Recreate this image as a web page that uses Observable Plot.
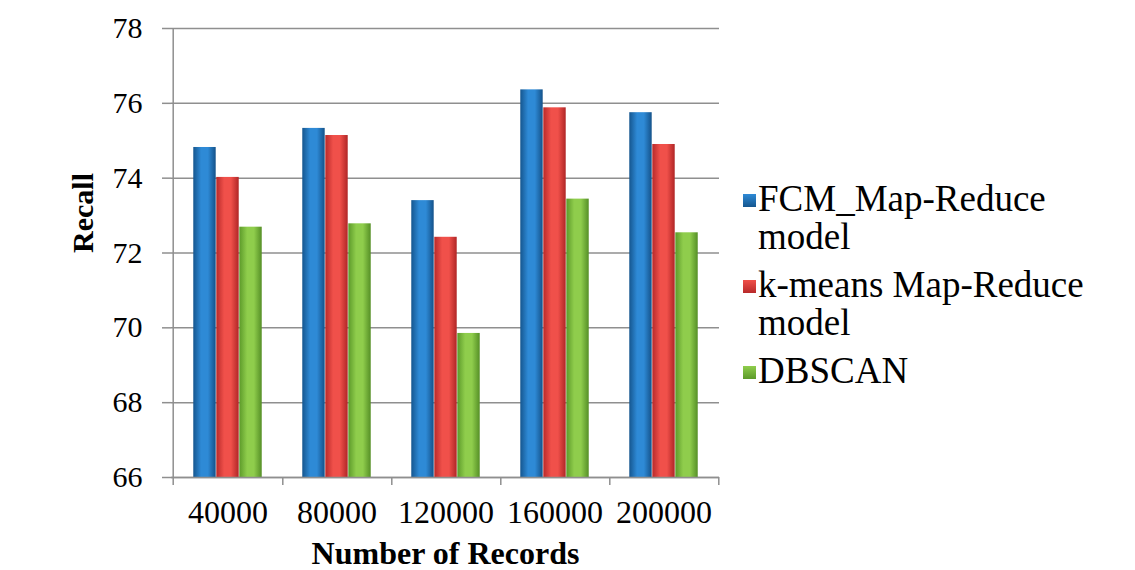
<!DOCTYPE html>
<html>
<head>
<meta charset="utf-8">
<script src="https://cdn.jsdelivr.net/npm/d3@7"></script>
<script src="https://cdn.jsdelivr.net/npm/@observablehq/plot@0.6"></script>
<style>
  html, body { margin: 0; padding: 0; background: #fff; }
  #wrap { position: relative; width: 1135px; height: 570px; overflow: hidden; font-family: "Liberation Serif", "Times New Roman", serif; }
  #chart { position: absolute; left: 0; top: 0; }
  #chart svg, #chart svg text { font-family: "Liberation Serif", "Times New Roman", serif !important; }
  #legend { position: absolute; left: 743px; top: 180px; width: 385px; }
  .item { display: flex; align-items: flex-start; margin-bottom: 10px; }
  .sw { width: 13px; height: 13px; margin-top: 14px; margin-right: 2px; flex: none; }
  .lbl { font-size: 37px; line-height: 38px; color: #000; width: 370px; }
</style>
</head>
<body>
<div id="wrap">
  <div id="chart"></div>
  <div id="legend"></div>
</div>
<script>
const records = ["40000", "80000", "120000", "160000", "200000"];
const seriesNames = ["FCM_Map-Reduce model", "k-means Map-Reduce model", "DBSCAN"];
const fcmValues = [74.82, 75.33, 73.40, 76.36, 75.75];
const kmeansValues = [74.02, 75.14, 72.42, 75.88, 74.90];
const dbscanValues = [72.69, 72.78, 69.85, 73.44, 72.54];
const yTicks = [66, 68, 70, 72, 74, 76, 78];
const seriesColors = [
  ["#15568f", "#2e8ad6", "#14528a"],
  ["#b82a2a", "#f0504a", "#b02626"],
  ["#5c9a2a", "#8fcd4c", "#558f26"]
];

const valuesBySeries = [fcmValues, kmeansValues, dbscanValues];
const data = [];
seriesNames.forEach((s, si) => records.forEach((r, ri) => data.push({records: r, series: s, si, value: valuesBySeries[si][ri]})));

const W = 735, H = 570;
const mL = 171, mR = 16, mT = 28, mB = 93;
const bw = (W - mL - mR) / records.length;
const groupFrac = 0.63;
const barFrac = groupFrac / 3;
const startFrac = (1 - groupFrac) / 2;
const grid = "#8f8f8f";
const serif = "Liberation Serif, Times New Roman, serif";

const barMarks = seriesNames.map((s, si) => Plot.barY(data.filter(d => d.si === si), {
  x: "records", y1: 66, y2: "value",
  fill: `url(#grad${si})`,
  insetLeft: bw * (startFrac + barFrac * si),
  insetRight: bw * (1 - startFrac - barFrac * (si + 1))
}));

const plot = Plot.plot({
  width: W, height: H,
  marginLeft: mL, marginRight: mR, marginTop: mT, marginBottom: mB,
  style: {background: "transparent", fontFamily: serif, overflow: "visible"},
  x: {domain: records, padding: 0, axis: null},
  y: {domain: [66, 78], axis: null},
  marks: [
    Plot.gridY(yTicks, {stroke: grid, strokeOpacity: 1, strokeWidth: 1.5}),
    Plot.axisY(yTicks, {tickSize: 9, tickPadding: 20, stroke: grid, strokeWidth: 1.5, fontSize: 30, fontFamily: serif, fill: "#000", label: null}),
    ...barMarks,
    Plot.ruleY([66], {stroke: grid, strokeWidth: 1.5}),
    Plot.ruleX([records[0]], {x: d => d, dx: -bw / 2, y1: 78, y2: 66, insetBottom: -8, stroke: grid, strokeWidth: 1.5}),
    Plot.ruleX(records, {x: d => d, dx: bw / 2, y1: 66, y2: 66, insetBottom: -8, stroke: grid, strokeWidth: 1.5}),
    Plot.axisX({tickSize: 0, tickPadding: 23, fontSize: 32, fontFamily: serif, fill: "#000", label: null}),
    Plot.text(["Recall"], {frameAnchor: "left", dx: -88, rotate: -90, fontSize: 30, fontWeight: "bold", fontFamily: serif, fill: "#000"}),
    Plot.text(["Number of Records"], {frameAnchor: "bottom", dy: 86, fontSize: 32, fontWeight: "bold", fontFamily: serif, fill: "#000"})
  ]
});

// gradient definitions for the bar fills
const svg = d3.select(plot);
const defs = svg.insert("defs", ":first-child");
seriesColors.forEach((c, i) => {
  const g = defs.append("linearGradient").attr("id", `grad${i}`).attr("x1", 0).attr("x2", 1).attr("y1", 0).attr("y2", 0);
  g.append("stop").attr("offset", "0%").attr("stop-color", c[0]);
  g.append("stop").attr("offset", "35%").attr("stop-color", c[1]);
  g.append("stop").attr("offset", "65%").attr("stop-color", c[1]);
  g.append("stop").attr("offset", "100%").attr("stop-color", c[2]);
});
document.getElementById("chart").appendChild(plot);

const legend = d3.select("#legend");
seriesNames.forEach((s, i) => {
  const it = legend.append("div").attr("class", "item");
  it.append("div").attr("class", "sw").style("background", `linear-gradient(to bottom, ${seriesColors[i][1]}, ${seriesColors[i][0]})`);
  it.append("div").attr("class", "lbl").text(s);
});
</script>
</body>
</html>
